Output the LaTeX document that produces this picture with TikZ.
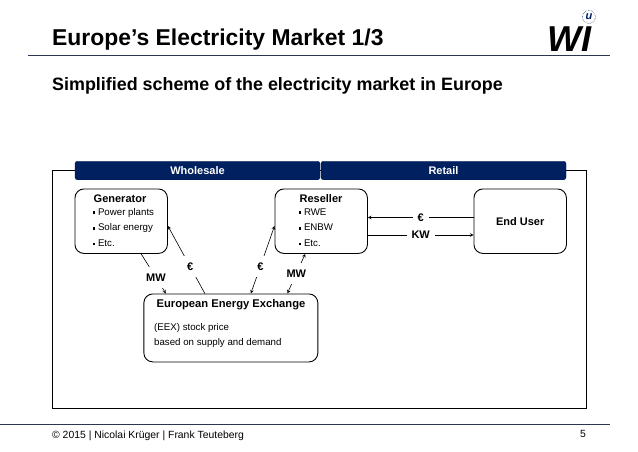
\documentclass[tikz,border=0pt]{standalone}
\usepackage{fontspec}
\setmainfont{Liberation Sans}
\usetikzlibrary{positioning, arrows}

\definecolor{navy}{HTML}{002060}
\definecolor{rulecol}{HTML}{2F3550}
\newcommand{\fsz}[1]{\fontsize{#1}{#1}\selectfont}
\newcommand{\sqitem}{\rule[1.4pt]{2.2pt}{2.2pt}\hspace{2.6pt}}

\begin{document}
\begin{tikzpicture}[
        >=stealth,
        x=1pt,
        y=-1pt,
        box/.style={draw=black, rounded corners=9pt, line width=0.9pt, minimum width=92.5pt, minimum height=64.5pt},
        tab/.style={draw=navy!80!black, fill=navy, rounded corners=2.5pt, minimum width=245pt, minimum height=18.5pt, inner sep=0pt, text=white, font=\fsz{11}\bfseries},
        boxtitle/.style={font=\fsz{11}\bfseries, inner sep=0pt},
        itemtext/.style={font=\fsz{9.7}, inner sep=0pt, anchor=west, text height=7pt, text depth=2pt},
        flowlabel/.style={fill=white, font=\fsz{11}\bfseries, inner xsep=5pt, inner ysep=6.5pt},
        every edge/.append style={draw=black, line width=0.6pt}
    ]
    \useasboundingbox (0,0) rectangle (638,452);

    % header
    \node[anchor=base west, inner sep=0pt, font=\fsz{22.9}\bfseries] (title) at (52,46) {Europe’s Electricity Market 1/3};
    \node[anchor=base west, inner sep=0pt, font=\fsz{17.9}\bfseries] (subtitle) at (52,91) {Simplified scheme of the electricity market in Europe};
    \coordinate (headl) at (28,55);
    \coordinate (headr) at (610,55);
    \draw[rulecol, line width=0.7pt] (headl) -- (headr);

    % logo
    \node[anchor=base east, inner sep=0pt, font=\fsz{36}\bfseries\itshape] (wi) at (592,52) {WI};
    \node[circle, draw=navy, densely dotted, line width=0.5pt, minimum size=13pt, inner sep=0pt, font=\fsz{11}\bfseries\itshape, text=navy] (uni) at (589,17) {u};

    % frame and tabs
    \draw[line width=0.9pt] (52.5,170) rectangle (586.5,408);
    \node[tab] (whole) at (197.5,170.5) {Wholesale};
    \node[tab] (retail) at (443.5,170.5) {Retail};

    % boxes
    \node[box] (gen) at (121.2,221.2) {};
    \node[box, right=106.6pt of gen] (res) {};
    \node[box, right=105.6pt of res] (user) {};
    \node[box, minimum width=174pt, minimum height=68pt, below right=39.6pt and -24.5pt of gen] (eee) {};

    \node[boxtitle] (gentitle) at (120,199) {Generator};
    \node[itemtext] (gen1) at (93,212.5) {\sqitem Power plants};
    \node[itemtext, below=6.5pt of gen1.south west, anchor=north west] (gen2) {\sqitem Solar energy};
    \node[itemtext, below=6.5pt of gen2.south west, anchor=north west] (gen3) {\sqitem Etc.};

    \node[boxtitle] (restitle) at (321,199) {Reseller};
    \node[itemtext] (res1) at (299,212.5) {\sqitem RWE};
    \node[itemtext, below=6.5pt of res1.south west, anchor=north west] (res2) {\sqitem ENBW};
    \node[itemtext, below=6.5pt of res2.south west, anchor=north west] (res3) {\sqitem Etc.};

    \node[boxtitle] at (user) {End User};

    \node[boxtitle, font=\fsz{11.2}\bfseries] (eeetitle) at (231,305) {European Energy Exchange};
    \node[itemtext] (eee1) at (154,327.5) {(EEX) stock price};
    \node[itemtext, below=6.5pt of eee1.south west, anchor=north west] (eee2) {based on supply and demand};

    % flows
    \draw (user.west |- 0,217.5) edge[->] node[flowlabel, pos=0.5] {€} (res.east |- 0,217.5)
    (res.east |- 0,235) edge[->] node[flowlabel, pos=0.5] {KW} (user.west |- 0,235)
    ([xshift=20pt]gen.south) edge[->] node[flowlabel, pos=0.6] {MW} ([xshift=-65pt]eee.north)
    ([xshift=-26pt]eee.north) edge[->] node[flowlabel, pos=0.4] {€} (gen.east |- 0,226)
    ([xshift=20pt]eee.north) edge[<->] node[flowlabel, pos=0.4] {€} (res.west |- 0,226)
    ([xshift=56.5pt]eee.north) edge[<->] node[flowlabel, pos=0.5] {MW} ([xshift=-16pt]res.south)
    ;

    % footer
    \coordinate (footl) at (0,424);
    \coordinate (footr) at (610,424);
    \draw[rulecol, line width=0.7pt] (footl) -- (footr);
    \node[anchor=base west, inner sep=0pt, font=\fsz{10.4}] (copy) at (52,438) {© 2015 | Nicolai Krüger | Frank Teuteberg};
    \node[anchor=base east, inner sep=0pt, font=\fsz{10.4}] (pagenum) at (586,437) {5};
\end{tikzpicture}
\end{document}
